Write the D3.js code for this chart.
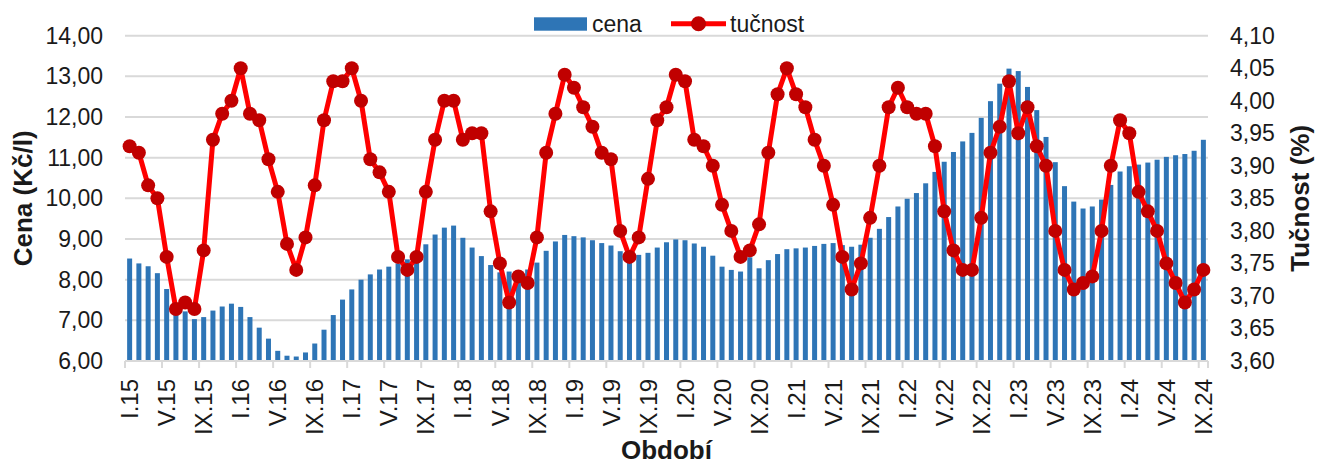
<!DOCTYPE html>
<html>
<head>
<meta charset="utf-8">
<script src="https://cdn.jsdelivr.net/npm/d3@7"></script>
<style>
  html, body { margin: 0; padding: 0; background: #ffffff; }
  svg { display: block; font-family: "Liberation Sans", Arial, sans-serif; }
</style>
</head>
<body>
<svg id="chart" width="1317" height="466"></svg>
<script>
const categories = [
  "I.15","II.15","III.15","IV.15","V.15","VI.15","VII.15","VIII.15","IX.15","X.15","XI.15","XII.15",
  "I.16","II.16","III.16","IV.16","V.16","VI.16","VII.16","VIII.16","IX.16","X.16","XI.16","XII.16",
  "I.17","II.17","III.17","IV.17","V.17","VI.17","VII.17","VIII.17","IX.17","X.17","XI.17","XII.17",
  "I.18","II.18","III.18","IV.18","V.18","VI.18","VII.18","VIII.18","IX.18","X.18","XI.18","XII.18",
  "I.19","II.19","III.19","IV.19","V.19","VI.19","VII.19","VIII.19","IX.19","X.19","XI.19","XII.19",
  "I.20","II.20","III.20","IV.20","V.20","VI.20","VII.20","VIII.20","IX.20","X.20","XI.20","XII.20",
  "I.21","II.21","III.21","IV.21","V.21","VI.21","VII.21","VIII.21","IX.21","X.21","XI.21","XII.21",
  "I.22","II.22","III.22","IV.22","V.22","VI.22","VII.22","VIII.22","IX.22","X.22","XI.22","XII.22",
  "I.23","II.23","III.23","IV.23","V.23","VI.23","VII.23","VIII.23","IX.23","X.23","XI.23","XII.23",
  "I.24","II.24","III.24","IV.24","V.24","VI.24","VII.24","VIII.24","IX.24"
];

// cena (Kč/l)
const cena = [
  8.52, 8.40, 8.33, 8.16, 7.77, 7.40, 7.22, 7.03, 7.08, 7.24, 7.34, 7.41,
  7.33, 7.08, 6.82, 6.55, 6.25, 6.13, 6.11, 6.21, 6.43, 6.77, 7.13, 7.51,
  7.76, 8.00, 8.13, 8.25, 8.32, 8.40, 8.50, 8.65, 8.87, 9.11, 9.28, 9.33,
  9.03, 8.79, 8.58, 8.36, 8.18, 8.20, 8.23, 8.25, 8.42, 8.71, 8.94, 9.10,
  9.07, 9.04, 8.97, 8.90, 8.84, 8.70, 8.60, 8.61, 8.66, 8.79, 8.92, 8.99,
  8.97, 8.89, 8.81, 8.59, 8.32, 8.24, 8.20, 8.55, 8.28, 8.48, 8.63, 8.75,
  8.77, 8.79, 8.83, 8.88, 8.90, 8.85, 8.81, 8.86, 9.03, 9.25, 9.54, 9.80,
  9.99, 10.13, 10.37, 10.65, 10.90, 11.14, 11.40, 11.61, 11.98, 12.39, 12.82, 13.19,
  13.13, 12.74, 12.17, 11.51, 10.89, 10.30, 9.92, 9.75, 9.80, 9.97, 10.33, 10.66,
  10.79, 10.83, 10.88, 10.95, 11.02, 11.06, 11.09, 11.17, 11.44
];

// tučnost (%)
const tucnost = [
  3.93, 3.92, 3.87, 3.85, 3.76, 3.68, 3.69, 3.68, 3.77, 3.94, 3.98, 4.00,
  4.05, 3.98, 3.97, 3.91, 3.86, 3.78, 3.74, 3.79, 3.87, 3.97, 4.03, 4.03,
  4.05, 4.00, 3.91, 3.89, 3.86, 3.76, 3.74, 3.76, 3.86, 3.94, 4.00, 4.00,
  3.94, 3.95, 3.95, 3.83, 3.75, 3.69, 3.73, 3.72, 3.79, 3.92, 3.98, 4.04,
  4.02, 3.99, 3.96, 3.92, 3.91, 3.80, 3.76, 3.79, 3.88, 3.97, 3.99, 4.04,
  4.03, 3.94, 3.93, 3.90, 3.84, 3.80, 3.76, 3.77, 3.81, 3.92, 4.01, 4.05,
  4.01, 3.99, 3.94, 3.90, 3.84, 3.76, 3.71, 3.75, 3.82, 3.90, 3.99, 4.02,
  3.99, 3.98, 3.98, 3.93, 3.83, 3.77, 3.74, 3.74, 3.82, 3.92, 3.96, 4.03,
  3.95, 3.99, 3.93, 3.90, 3.80, 3.74, 3.71, 3.72, 3.73, 3.80, 3.90, 3.97,
  3.95, 3.86, 3.83, 3.80, 3.75, 3.72, 3.69, 3.71, 3.74
];

const xTickLabels = [
  "I.15","V.15","IX.15","I.16","V.16","IX.16","I.17","V.17","IX.17","I.18","V.18","IX.18",
  "I.19","V.19","IX.19","I.20","V.20","IX.20","I.21","V.21","IX.21","I.22","V.22","IX.22",
  "I.23","V.23","IX.23","I.24","V.24","IX.24"
];
const leftTicks = [6, 7, 8, 9, 10, 11, 12, 13, 14];
const rightTicks = [3.60, 3.65, 3.70, 3.75, 3.80, 3.85, 3.90, 3.95, 4.00, 4.05, 4.10];

const svg = d3.select("#chart");
const L = 125, R = 1208, T = 35.7, B = 361;
const pad = 0.46;

const x = d3.scaleBand().domain(categories).range([L, R]).paddingInner(pad).paddingOuter(pad / 2);
const yL = d3.scaleLinear().domain([6, 14]).range([B, T]);
const yR = d3.scaleLinear().domain([3.6, 4.1]).range([B, T]);
const step = x.step();
const comma2 = v => d3.format(".2f")(v).replace(".", ",");

// gridlines
svg.append("g").selectAll("line").data(leftTicks.slice(1)).join("line")
  .attr("x1", L).attr("x2", R)
  .attr("y1", d => yL(d)).attr("y2", d => yL(d))
  .attr("stroke", "#d9d9d9").attr("stroke-width", 2);

// left axis labels
const gl = svg.append("g").attr("transform", `translate(${L - 22},0)`)
  .call(d3.axisLeft(yL).tickValues(leftTicks).tickFormat(comma2).tickSize(0).tickPadding(0));
gl.select(".domain").remove();
gl.selectAll("text").attr("font-size", 23).attr("fill", "#1a1a1a")
  .attr("font-family", "Liberation Sans, Arial, sans-serif");

// right axis labels
const gr = svg.append("g").attr("transform", `translate(${R + 22},0)`)
  .call(d3.axisRight(yR).tickValues(rightTicks).tickFormat(comma2).tickSize(0).tickPadding(0));
gr.select(".domain").remove();
gr.selectAll("text").attr("font-size", 23).attr("fill", "#1a1a1a")
  .attr("font-family", "Liberation Sans, Arial, sans-serif");

// bars
svg.append("g").selectAll("rect").data(cena).join("rect")
  .attr("x", (d, i) => x(categories[i]))
  .attr("width", x.bandwidth())
  .attr("y", d => yL(d))
  .attr("height", d => B - yL(d))
  .attr("fill", "#2E75B6");

// x axis line + ticks
svg.append("line").attr("x1", L).attr("x2", R).attr("y1", B).attr("y2", B)
  .attr("stroke", "#d9d9d9").attr("stroke-width", 2);
const tickCats = categories.filter(c => xTickLabels.includes(c));
svg.append("g").selectAll("line").data(tickCats).join("line")
  .attr("x1", c => x(c) - step * pad / 2).attr("x2", c => x(c) - step * pad / 2)
  .attr("y1", B).attr("y2", B + 7)
  .attr("stroke", "#d9d9d9").attr("stroke-width", 2);
svg.append("line").attr("x1", R).attr("x2", R).attr("y1", B).attr("y2", B + 7)
  .attr("stroke", "#d9d9d9").attr("stroke-width", 2);

// x tick labels
svg.append("g").selectAll("text").data(tickCats).join("text")
  .attr("transform", c => `translate(${x(c) + x.bandwidth() / 2},379) rotate(-90)`)
  .attr("text-anchor", "end").attr("dy", "0.36em")
  .attr("font-size", 24).attr("fill", "#1a1a1a")
  .text(c => c);

// line
const line = d3.line().x((d, i) => x(categories[i]) + x.bandwidth() / 2).y(d => yR(d));
svg.append("path").datum(tucnost).attr("d", line)
  .attr("fill", "none").attr("stroke", "#ff0000").attr("stroke-width", 5)
  .attr("stroke-linejoin", "round");
svg.append("g").selectAll("circle").data(tucnost).join("circle")
  .attr("cx", (d, i) => x(categories[i]) + x.bandwidth() / 2)
  .attr("cy", d => yR(d)).attr("r", 7)
  .attr("fill", "#c00000");

// axis titles
svg.append("text").attr("transform", `translate(31.5,${(T + B) / 2}) rotate(-90)`)
  .attr("text-anchor", "middle").attr("font-size", 26).attr("font-weight", "bold")
  .attr("fill", "#1a1a1a").text("Cena (Kč/l)");
svg.append("text").attr("transform", `translate(1309,${(T + B) / 2}) rotate(-90)`)
  .attr("text-anchor", "middle").attr("font-size", 26).attr("font-weight", "bold")
  .attr("fill", "#1a1a1a").text("Tučnost (%)");
svg.append("text").attr("x", (L + R) / 2).attr("y", 459)
  .attr("text-anchor", "middle").attr("font-size", 26).attr("font-weight", "bold")
  .attr("fill", "#1a1a1a").text("Období");

// legend
const lg = svg.append("g");
lg.append("rect").attr("x", 534).attr("y", 17.3).attr("width", 53).attr("height", 13.4).attr("fill", "#2E75B6");
lg.append("text").attr("x", 592).attr("y", 31.5).attr("font-size", 23).attr("fill", "#1a1a1a").text("cena");
lg.append("line").attr("x1", 671).attr("x2", 726).attr("y1", 23.7).attr("y2", 23.7)
  .attr("stroke", "#ff0000").attr("stroke-width", 5);
lg.append("circle").attr("cx", 698.5).attr("cy", 23.7).attr("r", 7.5).attr("fill", "#c00000");
lg.append("text").attr("x", 730).attr("y", 31.5).attr("font-size", 23).attr("fill", "#1a1a1a").text("tučnost");
</script>
</body>
</html>
